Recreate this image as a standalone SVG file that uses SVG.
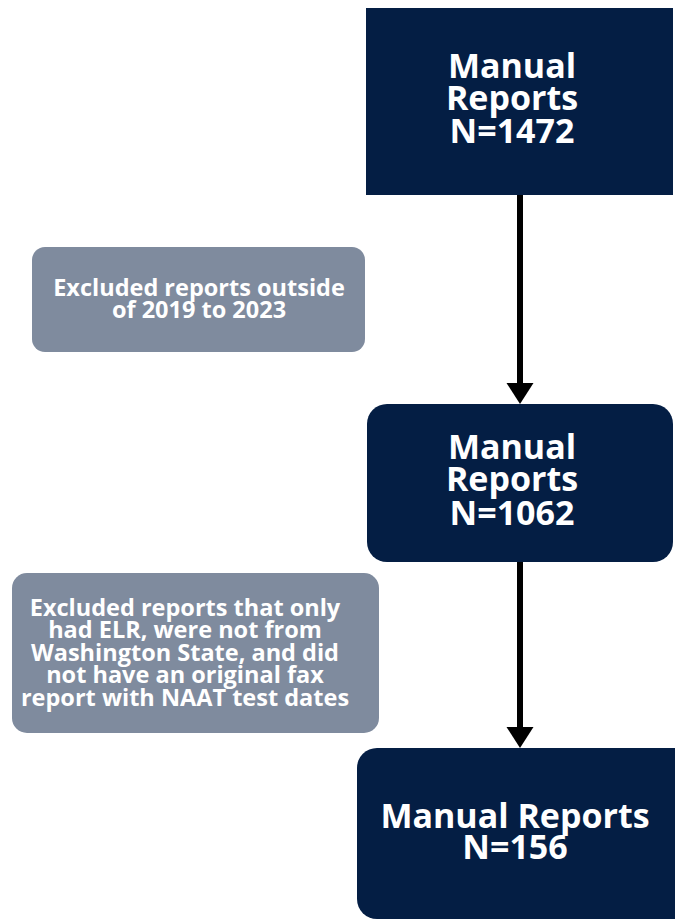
<svg xmlns="http://www.w3.org/2000/svg" width="675" height="920" viewBox="0 0 675 920">
<style>
.navy{fill:#041e44;}
.gray{fill:#7f8b9e;}
.t{font-family:"Open Sans","Noto Sans",sans-serif;font-weight:bold;fill:#ffffff;text-anchor:middle;}
.big{font-size:34px;}
.sm{font-size:23.5px;}
.conn{stroke:#000;stroke-width:6;fill:none;}
</style>
<rect width="675" height="920" fill="#ffffff"/>
<g id="connectors">
<line class="conn" x1="520" y1="195" x2="520" y2="385" />
<path d="M506.5,383 L533.5,383 L520,404 Z" fill="#000"/>
<line class="conn" x1="520" y1="561" x2="520" y2="729" />
<path d="M506.5,727 L533.5,727 L520,748 Z" fill="#000"/>
</g>
<g id="node1">
<rect class="navy" x="366" y="8" width="307" height="187"/>
<text class="t big" x="512" y="78">Manual</text>
<text class="t big" x="512" y="110">Reports</text>
<text class="t big" x="512" y="143">N=1472</text>
</g>
<g id="excl1">
<rect class="gray" x="32" y="247" width="333" height="105" rx="13"/>
<text class="t sm" x="199" y="296">Excluded reports outside</text>
<text class="t sm" x="199" y="318">of 2019 to 2023</text>
</g>
<g id="node2">
<rect class="navy" x="367" y="404" width="306" height="158" rx="20"/>
<text class="t big" x="512" y="459">Manual</text>
<text class="t big" x="512" y="491">Reports</text>
<text class="t big" x="512" y="525">N=1062</text>
</g>
<g id="excl2">
<rect class="gray" x="12" y="573" width="367" height="160" rx="15"/>
<text class="t sm" x="185" y="616">Excluded reports that only</text>
<text class="t sm" x="185" y="638">had ELR, were not from</text>
<text class="t sm" x="185" y="661">Washington State, and did</text>
<text class="t sm" x="185" y="683">not have an original fax</text>
<text class="t sm" x="185" y="706">report with NAAT test dates</text>
</g>
<g id="node3">
<rect class="navy" x="357" y="748" width="340" height="171" rx="20"/>
<text class="t big" x="515" y="828">Manual Reports</text>
<text class="t big" x="515" y="859">N=156</text>
</g>
</svg>
